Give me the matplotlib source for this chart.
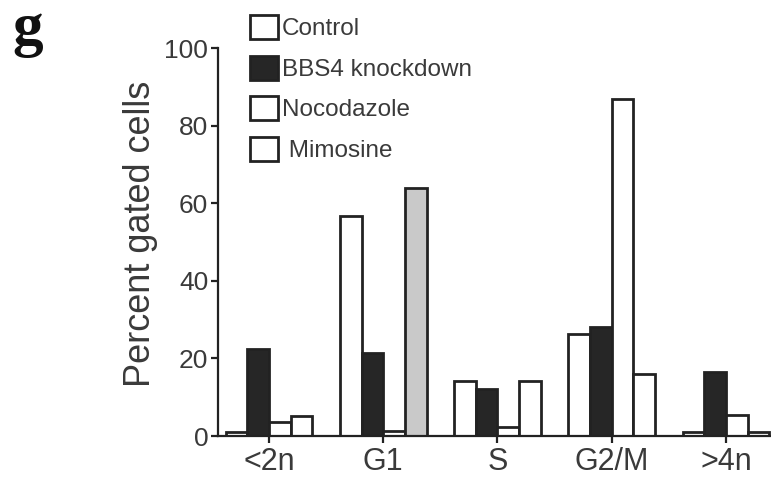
import matplotlib
matplotlib.use("Agg")
import matplotlib.pyplot as plt
import numpy as np

plt.rcParams['font.family'] = ['Liberation Sans', 'DejaVu Sans']

categories = ["<2n", "G1", "S", "G2/M", ">4n"]
series_names = ["Control", "BBS4 knockdown", "Nocodazole", " Mimosine"]
control = [1.1, 56.8, 14.1, 26.2, 1.1]
bbs4 = [22.5, 21.4, 12.2, 28.2, 16.5]
nocodazole = [3.7, 1.3, 2.4, 86.8, 5.4]
mimosine = [5.2, 64.0, 14.1, 16.0, 1.1]
yticks = [0, 20, 40, 60, 80, 100]

W, H = 771, 478
fig = plt.figure(figsize=(W / 100, H / 100), dpi=100)
ax = fig.add_axes([218 / W, 1 - 436 / H, 1 - 218 / W, (436 - 48) / H])

x = np.arange(len(categories))
w = 0.19
ink = '#222222'
txt = '#3a3a3a'
lw = 2.0
series = [control, bbs4, nocodazole, mimosine]
colors = [
    ['white'] * 5,
    ['#262626'] * 5,
    ['white'] * 5,
    ['white', '#c9c9c9', 'white', 'white', 'white'],
]
for i, (vals, name, col) in enumerate(zip(series, series_names, colors)):
    ax.bar(x + (i - 1.5) * w, vals, width=w, color=col, edgecolor=ink,
           linewidth=lw, label=name, zorder=2)

ax.set_xlim(-0.446, 4.394)
ax.set_ylim(0, 100)
ax.set_xticks(x)
ax.set_xticklabels(categories, fontsize=22, color=txt)
ax.set_yticks(yticks)
ax.set_yticklabels([str(v) for v in yticks], fontsize=19, color=txt)
for s in ['top', 'right']:
    ax.spines[s].set_visible(False)
for s in ['left', 'bottom']:
    ax.spines[s].set_linewidth(1.6)
    ax.spines[s].set_color(ink)
ax.tick_params(axis='both', direction='out', length=5, width=1.6, color=ink)
ax.tick_params(axis='y', pad=2)
ax.tick_params(axis='x', pad=3)

fig.text(140 / W, 1 - 234 / H, "Percent gated cells", rotation=90,
         ha='center', va='center', fontsize=26, color=txt)
fig.text(12 / W, 1 - 2 / H, "g", ha='left', va='top', fontsize=44,
         family='Liberation Serif', fontweight='bold', color='#111111')

leg = ax.legend(loc='upper left', bbox_to_anchor=(250 / W, 1 - 15 / H),
                bbox_transform=fig.transFigure, frameon=False, fontsize=17.5,
                handlelength=1.17, handleheight=1.17, handletextpad=0.15,
                labelspacing=0.62, borderpad=0, borderaxespad=0)
for t in leg.get_texts():
    t.set_color(txt)

fig.savefig("out.png", dpi=100)
